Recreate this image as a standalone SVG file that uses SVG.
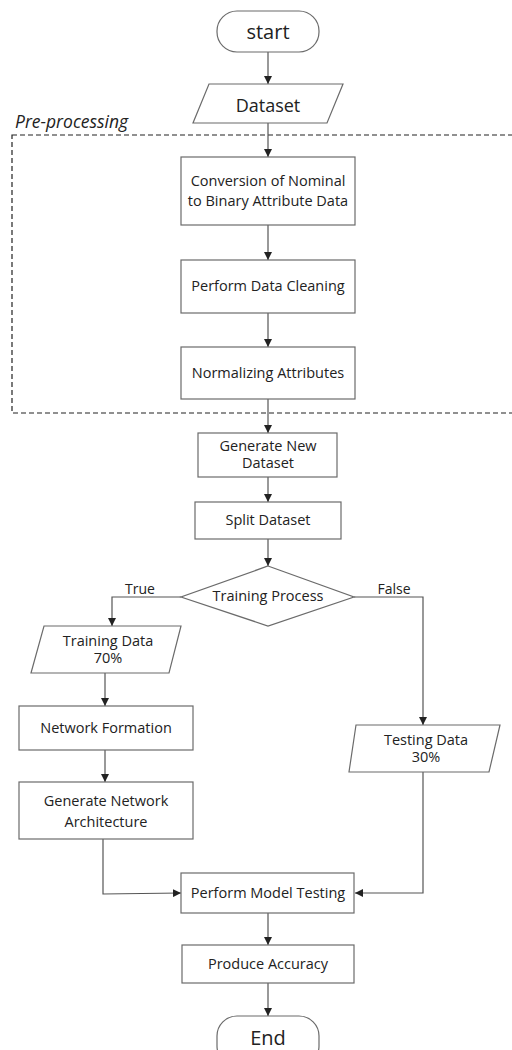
<svg xmlns="http://www.w3.org/2000/svg" width="512" height="1050" viewBox="0 0 512 1050">
<style>
.n{fill:#fff;stroke:#6b6b6b;stroke-width:1.2}
.t{font-family:"Open Sans","DejaVu Sans",sans-serif;font-size:14.5px;fill:#222;text-anchor:middle}
.big{font-size:20px}
.c{fill:none;stroke:#555;stroke-width:1.2}
.lbl{font-family:"Open Sans","DejaVu Sans",sans-serif;font-size:14px;fill:#222}
</style>
<defs>
<marker id="ah" viewBox="0 0 10 10" refX="10" refY="5" markerWidth="8" markerHeight="8" markerUnits="userSpaceOnUse" orient="auto">
<path d="M0,0 L10,5 L0,10 z" fill="#222"/>
</marker>
</defs>
<rect width="512" height="1050" fill="#fff"/>
<g id="preprocessing">
<rect x="12" y="135" width="520" height="278" fill="none" stroke="#222" stroke-width="1.2" stroke-dasharray="5,3"/>
<text x="15" y="128" class="lbl" style="font-style:italic;font-size:17.5px">Pre-processing</text>
</g>
<g id="connectors">
<line class="c" x1="268" y1="52" x2="268" y2="84" marker-end="url(#ah)"/>
<line class="c" x1="268" y1="123" x2="268" y2="157" marker-end="url(#ah)"/>
<line class="c" x1="268" y1="225" x2="268" y2="260" marker-end="url(#ah)"/>
<line class="c" x1="268" y1="313" x2="268" y2="347" marker-end="url(#ah)"/>
<line class="c" x1="268" y1="399" x2="268" y2="433" marker-end="url(#ah)"/>
<line class="c" x1="268" y1="477" x2="268" y2="502" marker-end="url(#ah)"/>
<line class="c" x1="268" y1="539" x2="268" y2="566" marker-end="url(#ah)"/>
<polyline class="c" points="181,597 112,597 112,626" marker-end="url(#ah)"/>
<polyline class="c" points="354,597 423,597 423,725" marker-end="url(#ah)"/>
<line class="c" x1="105" y1="673" x2="105" y2="706" marker-end="url(#ah)"/>
<line class="c" x1="105" y1="750" x2="105" y2="782" marker-end="url(#ah)"/>
<polyline class="c" points="103,839 103,894 181,893" marker-end="url(#ah)"/>
<polyline class="c" points="423,772 423,893 355,893" marker-end="url(#ah)"/>
<line class="c" x1="268" y1="913" x2="268" y2="945" marker-end="url(#ah)"/>
<line class="c" x1="268" y1="983" x2="268" y2="1016" marker-end="url(#ah)"/>
<text x="140" y="594" class="lbl" text-anchor="middle">True</text>
<text x="394" y="594" class="lbl" text-anchor="middle">False</text>
</g>
<g id="start">
<rect class="n" x="217" y="11" width="102" height="41" rx="20"/>
<text x="268" y="39" class="t big">start</text>
</g>
<g id="dataset">
<polygon class="n" points="209,84 343,84 327,123 193,123"/>
<text x="268" y="112" class="t" style="font-size:18px">Dataset</text>
</g>
<g id="conversion">
<rect class="n" x="181" y="157" width="174" height="68"/>
<text x="268" y="186" class="t">Conversion of Nominal</text>
<text x="268" y="206" class="t">to Binary Attribute Data</text>
</g>
<g id="cleaning">
<rect class="n" x="181" y="260" width="174" height="53"/>
<text x="268" y="291" class="t">Perform Data Cleaning</text>
</g>
<g id="normalizing">
<rect class="n" x="181" y="347" width="174" height="52"/>
<text x="268" y="378" class="t">Normalizing Attributes</text>
</g>
<g id="generate-dataset">
<rect class="n" x="198" y="433" width="139" height="44"/>
<text x="268" y="451" class="t">Generate New</text>
<text x="268" y="468" class="t">Dataset</text>
</g>
<g id="split">
<rect class="n" x="195" y="502" width="146" height="37"/>
<text x="268" y="525" class="t">Split Dataset</text>
</g>
<g id="decision">
<polygon class="n" points="268,566 354,597 268,626 181,597"/>
<text x="268" y="601" class="t">Training Process</text>
</g>
<g id="training-data">
<polygon class="n" points="44,626 181,626 169,673 31,673"/>
<text x="108" y="646" class="t">Training Data</text>
<text x="108" y="663" class="t">70%</text>
</g>
<g id="network-formation">
<rect class="n" x="19" y="706" width="174" height="44"/>
<text x="106" y="733" class="t">Network Formation</text>
</g>
<g id="network-architecture">
<rect class="n" x="19" y="782" width="174" height="57"/>
<text x="106" y="806" class="t">Generate Network</text>
<text x="106" y="827" class="t">Architecture</text>
</g>
<g id="testing-data">
<polygon class="n" points="356,725 500,725 489,772 349,772"/>
<text x="426" y="745" class="t">Testing Data</text>
<text x="426" y="762" class="t">30%</text>
</g>
<g id="model-testing">
<rect class="n" x="181" y="873" width="173" height="40"/>
<text x="268" y="898" class="t">Perform Model Testing</text>
</g>
<g id="accuracy">
<rect class="n" x="182" y="945" width="172" height="38"/>
<text x="268" y="969" class="t">Produce Accuracy</text>
</g>
<g id="end">
<rect class="n" x="217" y="1016" width="102" height="50" rx="20"/>
<text x="268" y="1045" class="t big">End</text>
</g>
</svg>
